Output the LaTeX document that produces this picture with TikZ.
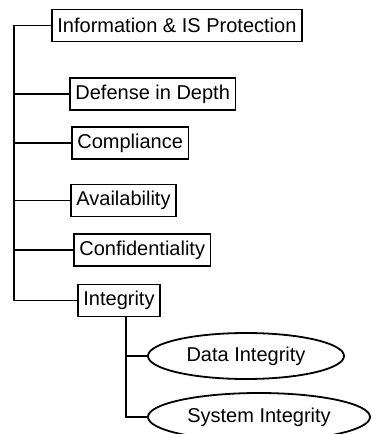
\documentclass[tikz,border=0pt]{standalone}
\usepackage{fontspec}
\setmainfont{Liberation Sans}
\usetikzlibrary{positioning,shapes.geometric,calc}

\begin{document}
\begin{tikzpicture}[
    x=1pt, y=1pt,
    topic/.style={draw, line width=1.8pt, rectangle, inner xsep=5.5pt, minimum height=32pt, anchor=west, font=\fontsize{20}{22}\selectfont},
    aspect/.style={draw, line width=1.8pt, ellipse, inner sep=0pt, font=\fontsize{20}{22}\selectfont},
    link/.style={line width=1.8pt}
]
\useasboundingbox (0,0) rectangle (372,-434);

\node[topic] (root) at (51,-25.5) {Information \& IS Protection};
\node[topic] (depth) at (69,-94) {Defense in Depth};
\node[topic] (compl) at (71,-143) {Compliance};
\node[topic] (avail) at (70,-200.5) {Availability};
\node[topic] (conf) at (73,-250) {Confidentiality};
\node[topic] (integ) at (77,-300.5) {Integrity};

\node[aspect, minimum width=196pt, minimum height=46pt] (data) at (246,-356) {Data Integrity};
\node[aspect, minimum width=222pt, minimum height=48pt] (sys) at (259,-417) {System Integrity};

\coordinate (spine) at (14,0);
\coordinate (subspine) at (126,0);

% main tree
\foreach \child in {depth,compl,avail,conf,integ}
  \draw[link] (root.west) -- (root.west -| spine) |- (\child.west);

% integrity branch
\foreach \child in {data,sys}
  \draw[link] (integ.south -| subspine) |- (\child.west);
\end{tikzpicture}
\end{document}
